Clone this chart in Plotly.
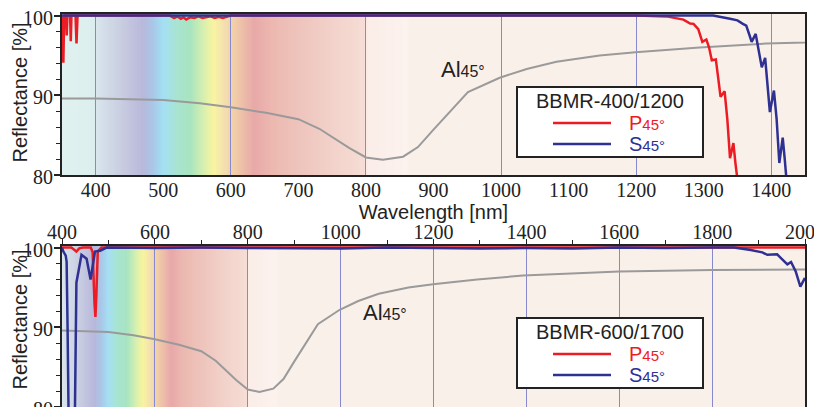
import numpy as np
import plotly.graph_objects as go

# ---------------- data ----------------
# Top chart: BBMR-400/1200
top_p_wl = [350, 351, 352, 353, 354, 356, 357, 358, 362, 363, 364, 370, 371.5, 373, 400, 510, 516, 521,
            526, 530, 534, 540, 546, 552, 558, 564, 570, 576, 582, 588, 594, 600, 800, 1000, 1200, 1245,
            1260, 1270, 1280, 1285, 1292, 1298, 1304, 1308, 1312, 1318, 1321, 1325, 1331, 1335, 1339, 1344,
            1347, 1349, 1352]
top_p_r = [100, 96.0, 94.1, 99.0, 100, 100, 97.5, 100, 100, 96.8, 100, 100, 96.5, 100, 100, 100, 99.7, 99.9,
           99.6, 99.8, 99.5, 99.8, 99.7, 99.9, 99.7, 99.8, 99.9, 99.7, 99.85, 99.7, 99.9, 100, 100, 100, 100,
           99.9, 99.7, 99.5, 99.0, 98.96, 98.3, 96.7, 97.0, 96.0, 94.4, 94.5, 92.5, 89.8, 90.5, 87.0, 82.1,
           84.0, 81.5, 80.0, 78.0]
top_s_wl = [350, 600, 1000, 1314, 1339, 1350, 1358, 1363, 1368, 1371, 1377, 1381, 1386, 1391, 1395, 1398,
            1404, 1408, 1412, 1417, 1420, 1422, 1424]
top_s_r = [100, 100, 100, 100, 99.6, 99.4, 98.96, 98.75, 97.5, 96.7, 97.7, 96.0, 93.5, 94.7, 91.0, 87.9,
           90.6, 87.0, 81.5, 84.7, 82.0, 80.0, 78.0]

# Bottom chart: BBMR-600/1700
bot_p_wl = [400, 420, 425, 431, 437, 445, 462, 466, 470, 472, 474, 477, 485, 1000, 1500, 2000]
bot_p_r = [100, 100, 99.8, 99.5, 99.9, 100, 100, 99.4, 93.0, 91.3, 94.0, 99.5, 100, 100, 100, 100]
bot_s_wl = [400, 403, 408, 410, 412, 415, 427, 431, 442, 453, 461.5, 471, 482, 496, 600, 700, 800, 900,
            950, 1000, 1100, 1200, 1300, 1400, 1500, 1600, 1700, 1800, 1847, 1883, 1908, 1919, 1940,
            1962, 1970, 1980, 1990, 2000]
bot_s_r = [100, 99.5, 99.0, 98.2, 90.0, 75.0, 75.0, 95.6, 99.1, 98.6, 96.0, 99.5, 99.6, 100, 99.95, 100,
           99.95, 99.9, 99.95, 99.9, 100, 99.95, 99.9, 99.95, 99.9, 100, 99.95, 100, 100, 99.7, 99.4, 99.1,
           99.15, 97.9, 98.2, 97.0, 95.1, 96.2]

# Aluminium reference at 45 deg (both charts)
al_wl = [350, 400, 450, 500, 554, 600, 652, 700, 731, 751, 775, 800, 825, 855, 877, 899, 924, 951,
         998, 1038, 1082, 1146, 1199, 1294, 1393, 1500, 1600, 1800, 2000]
al_r = [89.6, 89.6, 89.5, 89.4, 89.0, 88.5, 87.8, 87.0, 85.8, 84.7, 83.4, 82.2, 81.9, 82.3, 83.5, 85.6,
        87.9, 90.4, 92.2, 93.3, 94.2, 95.0, 95.4, 96.0, 96.5, 96.8, 97.0, 97.2, 97.25]

top_xticks = list(range(400, 1401, 100))
top_title = "BBMR-400/1200"
bot_title = "BBMR-600/1700"
series_names = ["P<span style='font-size:15px'>45°</span>", "S<span style='font-size:15px'>45°</span>"]
al_label = "Al<span style='font-size:16px'>45°</span>"
y_title = "Reflectance [%]"
x_title = "Wavelength [nm]"

# spectrum background colour stops (decoration)
bg_nm = [350, 398, 402, 440, 470, 485, 500, 520, 540, 560, 575, 590, 610, 635, 660, 700, 750, 798, 802, 860, 866]
bg_col = ["#e0f1ef", "#dcefee", "#d8e4ec", "#c8cce0", "#b8b8dc", "#a8c8e8", "#a4e0f4", "#a8e4d0",
          "#a8e4c0", "#d8f0b0", "#f8f4a0", "#f4e0b0", "#f0c8a8", "#e8a8a8", "#ecb8b0", "#eec4bc",
          "#f2d2ca", "#f6ddd5", "#fbede8", "#fcf2ee", "#faf0ea"]

RED = "#ec1c24"
BLUE = "#2e3192"
GRAY = "#9a9a9a"
GRID = "#8888cc"
SANS = "Liberation Sans"
SERIF = "Liberation Serif"
INK = "#222222"

# the page body adds an 8 px margin around the figure
OFF = 8
W, H = 822 - OFF, 407 - OFF
ML, MR, MT, MB = 62 - OFF, 17, 14 - OFF, 0
PW, PH = W - ML - MR, H - MT - MB


def px(xp, yp):
    """window pixel position -> paper coordinates"""
    return (xp - OFF - ML) / PW, (H - MB - (yp - OFF)) / PH


def hex2rgb(h):
    h = h.lstrip("#")
    return [int(h[i:i + 2], 16) for i in (0, 2, 4)]


rgb = np.array([hex2rgb(c) for c in bg_col], dtype=float)


def bg_shapes(xref, yref, xmin, xmax, step):
    shapes = []
    edges = np.arange(xmin, min(xmax, bg_nm[-1]) + 0.001, step)
    for a, b in zip(edges[:-1], edges[1:]):
        m = 0.5 * (a + b)
        c = [int(round(np.interp(m, bg_nm, rgb[:, k]))) for k in range(3)]
        shapes.append(dict(type="rect", xref=xref, yref=yref + " domain", x0=a, x1=b + step * 0.6, y0=0, y1=1,
                           fillcolor=f"rgb({c[0]},{c[1]},{c[2]})", line=dict(width=0), layer="below"))
    shapes.append(dict(type="rect", xref=xref, yref=yref + " domain", x0=edges[-1], x1=xmax, y0=0, y1=1,
                       fillcolor=bg_col[-1], line=dict(width=0), layer="below"))
    return shapes


def legend_block(title, box_top):
    """manual legend box: title + red/blue samples"""
    shapes, anns = [], []
    x0, y0 = px(517, box_top)
    x1, y1 = px(703, box_top + 70)
    shapes.append(dict(type="rect", xref="paper", yref="paper", x0=x0, x1=x1, y0=y1, y1=y0,
                       fillcolor="white", line=dict(color=INK, width=2), layer="above"))
    tx, ty = px(610, box_top + 14)
    anns.append(dict(x=tx, y=ty, xref="paper", yref="paper", text=title, showarrow=False,
                     xanchor="center", yanchor="middle", font=dict(family=SANS, size=20, color=INK)))
    for k, (col, name) in enumerate(zip([RED, BLUE], series_names)):
        yy = box_top + 36 + k * 21
        lx0, ly = px(553, yy)
        lx1, _ = px(611, yy)
        shapes.append(dict(type="line", xref="paper", yref="paper", x0=lx0, x1=lx1, y0=ly, y1=ly,
                           line=dict(color=col, width=2.5), layer="above"))
        ax, ay = px(627, yy)
        anns.append(dict(x=ax, y=ay, xref="paper", yref="paper", text=name, showarrow=False,
                         xanchor="left", yanchor="middle", font=dict(family=SANS, size=20, color=col)))
    return shapes, anns


fig = go.Figure()

# top chart traces
fig.add_trace(go.Scatter(x=al_wl, y=al_r, mode="lines", line=dict(color=GRAY, width=2),
                         name="Al 45°", showlegend=False, xaxis="x", yaxis="y"))
fig.add_trace(go.Scatter(x=top_p_wl, y=top_p_r, mode="lines", line=dict(color=RED, width=2.5),
                         name="P 45°", showlegend=False, xaxis="x", yaxis="y"))
fig.add_trace(go.Scatter(x=top_s_wl, y=top_s_r, mode="lines", line=dict(color=BLUE, width=2.5),
                         name="S 45°", showlegend=False, xaxis="x", yaxis="y"))
# carrier for the labelled overlay axis of the top chart
fig.add_trace(go.Scatter(x=[], y=[], mode="lines", showlegend=False, hoverinfo="skip",
                         xaxis="x3", yaxis="y"))

# bottom chart traces
fig.add_trace(go.Scatter(x=al_wl, y=al_r, mode="lines", line=dict(color=GRAY, width=2),
                         name="Al 45°", showlegend=False, xaxis="x2", yaxis="y2"))
fig.add_trace(go.Scatter(x=bot_p_wl, y=bot_p_r, mode="lines", line=dict(color=RED, width=2.5),
                         name="P 45°", showlegend=False, xaxis="x2", yaxis="y2"))
fig.add_trace(go.Scatter(x=bot_s_wl, y=bot_s_r, mode="lines", line=dict(color=BLUE, width=2.5),
                         name="S 45°", showlegend=False, xaxis="x2", yaxis="y2"))

shapes = bg_shapes("x", "y", 350, 1450, 3.0) + bg_shapes("x2", "y2", 400, 2000, 4.0)
s1, a1 = legend_block(top_title, 87)
s2, a2 = legend_block(bot_title, 318)
shapes += s1 + s2

axis_line = dict(showline=True, linecolor=INK, linewidth=2, mirror=True)
tickfont = dict(family=SERIF, size=20, color=INK)

yaxis_common = dict(range=[80, 100.2], tick0=80, dtick=10, ticks="outside", ticklen=6, tickwidth=1.5,
                    tickcolor=INK, tickfont=tickfont, showgrid=False, zeroline=False, automargin=False,
                    ticklabelstandoff=-3, ticklabelshift=2, ticklabeloverflow="allow",
                    minor=dict(dtick=2, tick0=80, ticks="outside", ticklen=4, tickwidth=1.2, tickcolor=INK),
                    **axis_line)

ytx, yty1 = px(19.5, 93)
_, yty2 = px(19.5, 320)

fig.update_layout(
    width=W, height=H,
    margin=dict(l=ML, r=MR, t=MT, b=MB),
    paper_bgcolor="white", plot_bgcolor="#faf0ea",
    showlegend=False,
    xaxis=dict(domain=[0, 1], range=[350, 1450], tick0=400, dtick=200, ticks="", showticklabels=False,
               showgrid=True, gridcolor=GRID, gridwidth=1.2, zeroline=False, anchor="y", automargin=False,
               **axis_line),
    xaxis3=dict(range=[350, 1450], overlaying="x", anchor="y", side="bottom", tickvals=top_xticks, ticks="",
                showgrid=False, zeroline=False, showline=False, tickfont=tickfont, ticklabelstandoff=1,
                automargin=False,
                title=dict(text=x_title, font=dict(family=SANS, size=20, color=INK), standoff=0)),
    yaxis=dict(domain=[px(0, 175)[1], 1.0], anchor="x", **yaxis_common),
    xaxis2=dict(domain=[0, 1], range=[400, 2000], tick0=400, dtick=200, side="top", ticks="outside",
                ticklen=5, tickwidth=1.2, tickcolor=INK, showgrid=True, gridcolor=GRID, gridwidth=1.2,
                zeroline=False, tickfont=tickfont, anchor="y2", automargin=False,
                ticklabelstandoff=-8, ticklabeloverflow="allow",
                minor=dict(dtick=100, ticks="outside", ticklen=4, tickwidth=1.2, tickcolor=INK, showgrid=False),
                **axis_line),
    yaxis2=dict(domain=[0, px(0, 246)[1]], anchor="x2", **yaxis_common),
    shapes=shapes,
    annotations=[
        dict(x=944, y=93.2, xref="x", yref="y", showarrow=False,
             text=al_label, font=dict(family=SANS, size=22, color=INK)),
        dict(x=1096, y=91.9, xref="x2", yref="y2", showarrow=False,
             text=al_label, font=dict(family=SANS, size=22, color=INK)),
        dict(x=ytx, y=yty1, xref="paper", yref="paper", showarrow=False, textangle=-90,
             xanchor="center", yanchor="middle", text=y_title, font=dict(family=SANS, size=20, color=INK)),
        dict(x=ytx, y=yty2, xref="paper", yref="paper", showarrow=False, textangle=-90,
             xanchor="center", yanchor="middle", text=y_title, font=dict(family=SANS, size=20, color=INK)),
    ] + a1 + a2,
)

fig.write_html("out.html")
